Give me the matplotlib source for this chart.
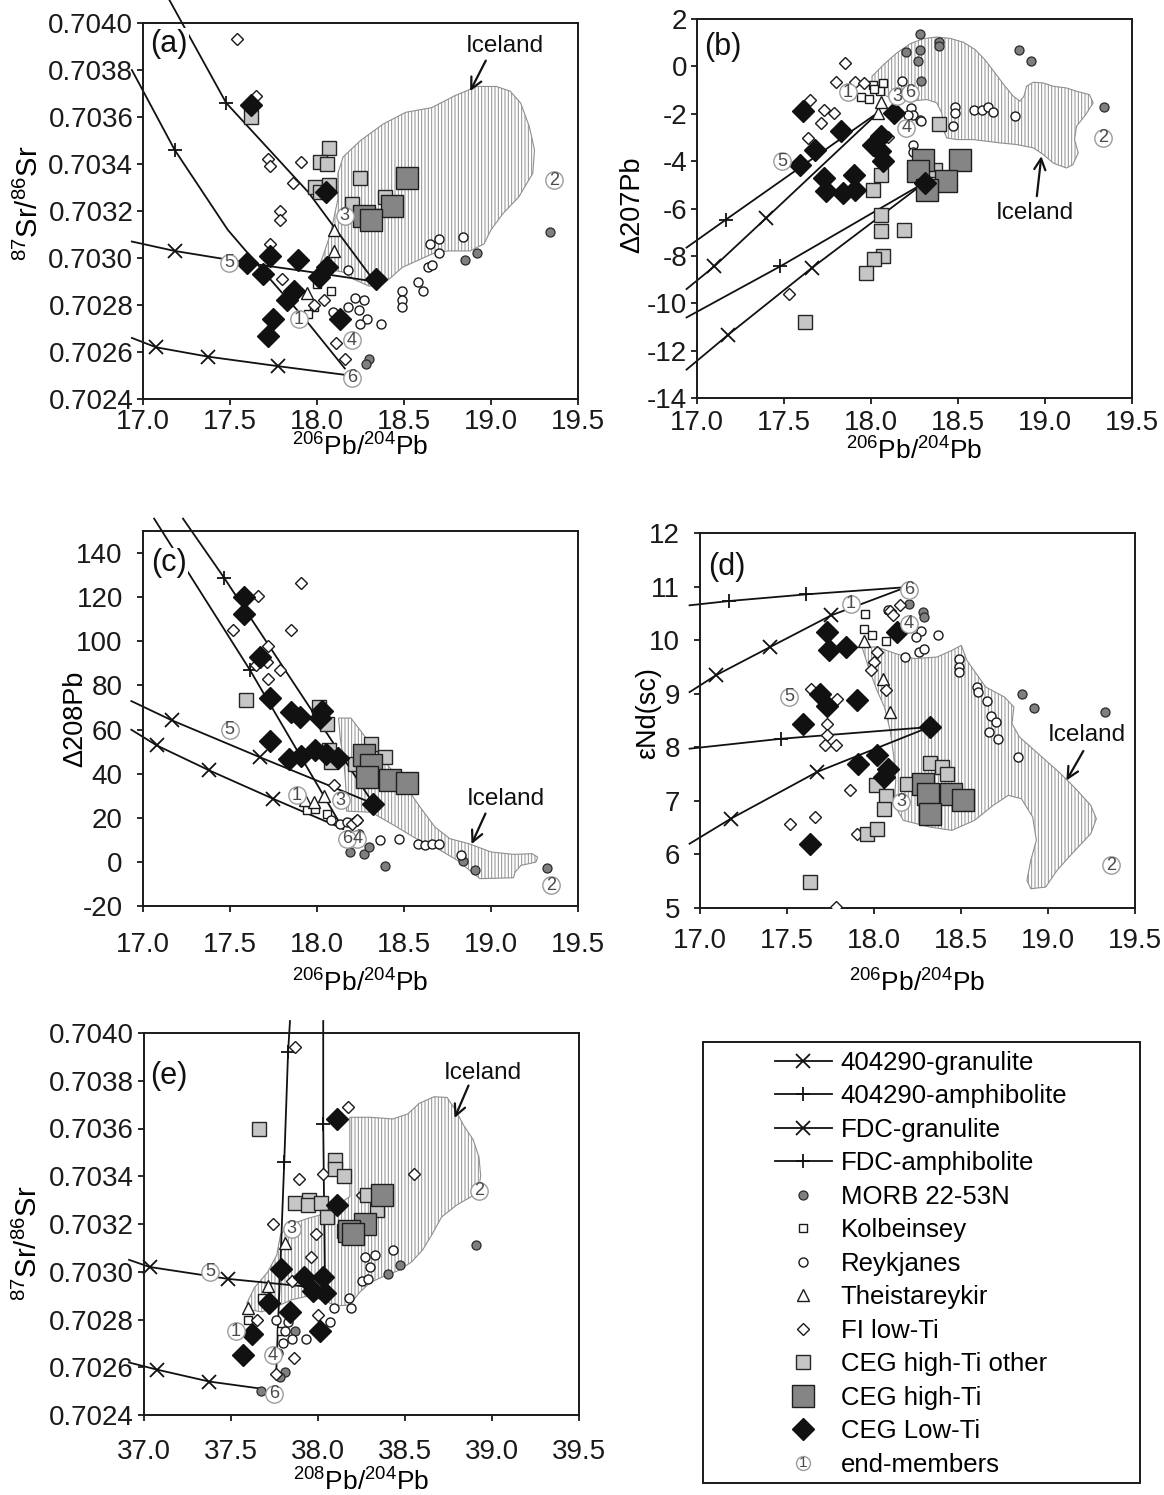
import matplotlib
matplotlib.use('Agg')
import matplotlib.pyplot as plt
from matplotlib.patches import Polygon, Rectangle
from matplotlib.lines import Line2D
from matplotlib.text import Text
from matplotlib.legend_handler import HandlerBase
from matplotlib.ticker import FormatStrFormatter, MultipleLocator

plt.rcParams['font.family'] = ['Liberation Sans', 'DejaVu Sans']
plt.rcParams['mathtext.fontset'] = 'custom'
plt.rcParams['mathtext.rm'] = 'Liberation Sans'
plt.rcParams['mathtext.it'] = 'Liberation Sans:italic'
plt.rcParams['mathtext.bf'] = 'Liberation Sans:bold'
plt.rcParams['hatch.linewidth'] = 0.7

W, H = 1164, 1495

################################################
############ PANEL (a): 87Sr/86Sr vs 206Pb ######
################################################
A_ICELAND = [(18.04, 0.70302), (18.08, 0.70311), (18.12, 0.70325), (18.12, 0.70336), (18.15, 0.70343),
             (18.25, 0.70350), (18.38, 0.70357), (18.51, 0.70362), (18.66, 0.70364), (18.79, 0.70369),
             (18.92, 0.70373), (19.03, 0.70373), (19.11, 0.70371), (19.17, 0.70366), (19.22, 0.70356),
             (19.25, 0.70346), (19.24, 0.70336), (19.16, 0.70326), (19.07, 0.70319), (19.00, 0.70312),
             (18.96, 0.70306), (18.88, 0.70303), (18.75, 0.70303), (18.67, 0.70302), (18.58, 0.70299),
             (18.49, 0.70296), (18.43, 0.70292), (18.38, 0.70289), (18.30, 0.70288), (18.21, 0.70291),
             (18.15, 0.70294), (18.08, 0.70295), (18.02, 0.70298)]
A_MORB = [(19.34, 0.70311), (18.92, 0.70302), (18.85, 0.70299), (18.30, 0.70257), (18.28, 0.70255)]
A_KOLB = [(18.00, 0.70289), (18.08, 0.70286), (17.98, 0.70279), (17.95, 0.70276)]
A_REYK = [(18.18, 0.70295), (18.09, 0.70277), (18.22, 0.70283), (18.27, 0.70282), (18.18, 0.70279),
          (18.24, 0.70278), (18.29, 0.70274), (18.25, 0.70272), (18.37, 0.70272), (18.49, 0.70286),
          (18.49, 0.70282), (18.49, 0.70279), (18.58, 0.70290), (18.61, 0.70286), (18.64, 0.70296),
          (18.66, 0.70297), (18.65, 0.70306), (18.70, 0.70308), (18.70, 0.70302), (18.84, 0.70309)]
A_THEIS = [(18.10, 0.70312), (18.10, 0.70303), (17.94, 0.70285)]
A_FI = [(17.54, 0.70393), (17.65, 0.70369), (17.72, 0.70342), (17.73, 0.70339), (17.91, 0.70341),
        (17.86, 0.70332), (17.79, 0.70320), (17.79, 0.70316), (17.73, 0.70306), (17.80, 0.70291),
        (18.04, 0.70282), (17.98, 0.70280), (18.11, 0.70264), (18.16, 0.70257)]
A_CEG_OTHER = [(17.62, 0.70360), (18.07, 0.70347), (18.02, 0.70341), (18.06, 0.70340), (17.99, 0.70330),
               (18.02, 0.70328), (18.07, 0.70331), (18.20, 0.70323), (18.25, 0.70334), (18.39, 0.70326),
               (18.33, 0.70318)]
A_CEG_HIGH = [(18.52, 0.70334), (18.43, 0.70322), (18.27, 0.70318), (18.31, 0.70316)]
A_CEG_LOW = [(17.62, 0.70365), (18.05, 0.70328), (17.60, 0.70298), (17.69, 0.70293), (17.73, 0.70301),
             (17.89, 0.70299), (17.87, 0.70286), (17.83, 0.70282), (18.01, 0.70292), (18.06, 0.70296),
             (18.34, 0.70291), (17.75, 0.70274), (17.72, 0.70267), (18.13, 0.70274)]
A_END = [(17.895, 0.70274), (19.36, 0.70333), (18.16, 0.70318), (18.20, 0.70265), (17.494, 0.70298),
         (18.20, 0.70249)]
A_404_AMPH = [(17.15, 0.70410), (17.478, 0.70366), (17.95, 0.70328), (18.33, 0.70290)]
A_404_GRAN = [(16.936, 0.70307), (17.182, 0.70303), (17.68, 0.70297), (17.968, 0.70294), (18.33, 0.70290)]
A_FDC_AMPH = [(16.936, 0.70380), (17.182, 0.70346), (17.487, 0.70312), (17.719, 0.70292),
              (17.931, 0.70274), (18.16, 0.70253)]
A_FDC_GRAN = [(16.936, 0.70266), (17.075, 0.70262), (17.376, 0.70258), (17.773, 0.70254), (18.19, 0.70250)]
A_MARKS = {'404_amph': [1], '404_gran': [1], 'fdc_amph': [1], 'fdc_gran': [1, 2, 3]}

################################################
############ PANEL (b): D207Pb vs 206Pb ########
################################################
B_ICELAND = [(18.006, -0.42), (18.072, 0.07), (18.149, 0.57), (18.226, 0.96), (18.302, 1.17), (18.378, 1.24),
             (18.455, 1.18), (18.531, 1.02), (18.598, 0.71), (18.655, 0.28), (18.713, -0.28), (18.770, -0.84),
             (18.818, -1.26), (18.856, -1.47), (18.879, -1.26), (18.894, -0.84), (18.933, -0.67),
             (18.990, -0.70), (19.047, -0.84), (19.123, -0.91), (19.181, -1.05), (19.255, -1.19),
             (19.277, -1.54), (19.234, -2.04), (19.181, -2.53), (19.170, -3.09), (19.191, -3.65),
             (19.160, -4.15), (19.123, -4.29), (19.047, -4.08), (18.990, -3.72), (18.933, -3.44),
             (18.837, -3.30), (18.741, -3.23), (18.665, -3.16), (18.588, -3.09), (18.493, -3.09),
             (18.435, -3.02), (18.416, -2.67), (18.407, -1.97), (18.378, -1.54), (18.321, -1.40),
             (18.225, -1.47), (18.130, -1.40), (18.053, -1.12), (18.006, -0.77)]
B_MORB = [(18.28, 1.38), (18.20, 0.59), (18.28, 0.68), (18.27, 0.24), (18.39, 1.02), (18.39, 0.85),
          (18.29, -0.60), (18.85, 0.68), (18.92, 0.24), (19.34, -1.71)]
B_KOLB = [(17.94, -1.29), (17.99, -1.38), (18.01, -0.77), (18.07, -0.70), (18.05, -1.05), (18.02, -0.95)]
B_REYK = [(18.48, -1.71), (18.48, -1.97), (18.47, -2.50), (18.59, -1.85), (18.64, -1.83), (18.67, -1.71),
          (18.70, -1.94), (18.83, -2.08), (18.18, -0.63), (18.23, -1.76), (18.24, -2.04), (18.28, -2.25),
          (18.24, -3.34), (18.24, -3.63), (18.21, -2.04), (18.29, -2.32)]
B_THEIS = [(18.04, -1.97), (18.06, -1.50)]
B_FI = [(17.85, 0.14), (17.80, -0.67), (17.91, -0.67), (17.96, -0.70), (17.65, -1.40), (17.73, -1.83),
        (17.71, -2.39), (17.79, -1.97), (17.64, -3.02), (18.10, -2.98), (17.53, -9.63)]
B_CEG_OTHER = [(18.39, -2.42), (18.06, -4.57), (18.01, -5.23), (18.06, -6.26), (18.06, -6.96),
               (18.19, -6.92), (18.07, -7.99), (18.02, -8.15), (17.97, -8.72), (17.62, -10.80), (18.37, -4.36)]
B_CEG_HIGH = [(18.30, -3.94), (18.51, -3.94), (18.27, -4.43), (18.43, -4.85), (18.32, -5.20)]
B_CEG_LOW = [(17.61, -1.90), (17.59, -4.15), (17.68, -3.51), (17.83, -2.74), (17.73, -4.71), (17.74, -5.27),
             (17.84, -5.34), (17.90, -4.57), (17.91, -5.20), (18.13, -1.97), (18.01, -3.30), (18.06, -2.95),
             (18.05, -3.58), (18.07, -4.01), (18.31, -4.92)]
B_END = [(17.868, -1.09), (19.336, -3.02), (18.149, -1.26), (18.202, -2.60), (17.489, -4.01), (18.223, -1.12)]
B_404_AMPH = [(16.94, -10.6), (17.479, -8.44), (18.31, -4.9)]
B_404_GRAN = [(16.94, -12.8), (17.181, -11.32), (17.66, -8.51), (18.31, -4.9)]
B_FDC_AMPH = [(16.94, -7.65), (17.166, -6.47), (18.05, -1.9)]
B_FDC_GRAN = [(16.94, -9.4), (17.10, -8.44), (17.398, -6.40), (18.05, -1.9)]
B_MARKS = {'404_amph': [1], '404_gran': [1, 2], 'fdc_amph': [1], 'fdc_gran': [1, 2]}

################################################
############ PANEL (c): D208Pb vs 206Pb ########
################################################
C_ICELAND = [(18.124, 65.2), (18.195, 65.2), (18.292, 55.1), (18.399, 44.5), (18.506, 34.7), (18.592, 24.9),
             (18.678, 15.8), (18.764, 10.5), (18.871, 8.3), (19.0, 4.5), (19.129, 3.4), (19.236, 3.7),
             (19.268, 2.2), (19.258, -0.1), (19.172, -1.6), (19.139, -4.6), (19.129, -7.2), (18.936, -7.6),
             (18.807, 0.7), (18.678, 6.7), (18.571, 10.5), (18.442, 16.6), (18.313, 22.5), (18.17, 23.0),
             (18.165, 35.0), (18.155, 45.0), (18.135, 55.0)]
C_MORB = [(18.19, 4.5), (18.27, 3.7), (18.30, 6.8), (18.39, -2.0), (18.84, 0.4), (18.91, -3.5), (19.32, -2.6)]
C_KOLB = [(17.94, 23.4), (17.99, 24.1), (18.06, 21.9)]
C_REYK = [(18.08, 18.8), (18.13, 17.3), (18.17, 18.0), (18.23, 18.8), (18.24, 12.8), (18.36, 9.8),
          (18.47, 10.5), (18.58, 8.3), (18.62, 7.5), (18.66, 8.3), (18.70, 8.3), (18.83, 3.0)]
C_THEIS = [(17.93, 28.0), (17.98, 27.0), (18.04, 30.0)]
C_FI = [(17.91, 126.4), (17.52, 105.0), (17.85, 105.0), (17.72, 97.7), (17.65, 89.1), (17.71, 90.6),
        (17.79, 86.8), (17.72, 83.0), (17.66, 120.4), (18.10, 34.7), (18.20, 17.0), (18.23, 19.0)]
C_CEG_OTHER = [(17.59, 73.2), (18.01, 70.2), (18.06, 62.6), (18.07, 50.6), (18.08, 45.3), (18.22, 44.5),
               (18.31, 53.6), (18.39, 47.5), (18.31, 37.0)]
C_CEG_HIGH = [(18.27, 48.3), (18.31, 43.8), (18.42, 37.0), (18.52, 35.8), (18.29, 38.5)]
C_CEG_LOW = [(17.58, 120.1), (17.58, 112.5), (17.67, 92.9), (17.73, 74.1), (17.85, 68.0), (17.90, 65.9),
             (17.73, 54.7), (17.84, 46.5), (17.91, 47.8), (18.02, 65.1), (18.03, 68.5), (17.99, 50.8),
             (18.05, 48.7), (18.12, 47.2), (18.32, 26.4)]
C_END = [(17.884, 30.2), (19.343, -10.6), (18.137, 27.9), (18.232, 10.5), (17.498, 59.9), (18.174, 10.5)]
C_404_AMPH = [(17.230, 155.6), (17.466, 128.8), (18.324, 26.4)]
C_404_GRAN = [(16.933, 72.9), (17.165, 64.2), (17.670, 47.5), (18.324, 26.4)]
C_FDC_AMPH = [(17.064, 155.6), (17.616, 86.8), (18.15, 15.0)]
C_FDC_GRAN = [(16.933, 59.9), (17.079, 52.8), (17.380, 41.5), (17.745, 28.7), (18.15, 15.0)]
C_MARKS = {'404_amph': [1], '404_gran': [1, 2], 'fdc_amph': [1], 'fdc_gran': [1, 2, 3]}

################################################
############ PANEL (d): eNd vs 206Pb ###########
################################################
D_ICELAND = [(17.931, 9.872), (17.974, 9.436), (18.017, 9.063), (18.060, 8.752), (18.093, 8.316),
             (18.114, 7.818), (18.125, 7.383), (18.114, 6.947), (18.168, 6.636), (18.319, 6.512),
             (18.448, 6.450), (18.578, 6.636), (18.685, 6.916), (18.772, 7.103), (18.847, 7.040),
             (18.912, 6.698), (18.933, 6.263), (18.901, 5.889), (18.879, 5.516), (18.901, 5.360),
             (18.987, 5.391), (19.052, 5.703), (19.138, 6.014), (19.246, 6.387), (19.278, 6.667),
             (19.246, 6.916), (19.159, 7.227), (19.073, 7.507), (18.944, 7.881), (18.836, 8.192),
             (18.793, 8.441), (18.804, 8.752), (18.750, 8.938), (18.642, 9.125), (18.534, 9.623),
             (18.502, 9.903), (18.448, 9.810), (18.362, 9.685), (18.233, 9.654), (18.125, 9.747),
             (18.017, 9.872)]
D_MORB = [(18.20, 10.68), (18.28, 10.53), (18.29, 10.43), (18.85, 8.99), (18.92, 8.74), (19.33, 8.66)]
D_KOLB = [(17.95, 10.48), (17.94, 10.20), (17.99, 10.09), (18.07, 9.98)]
D_REYK = [(18.08, 10.57), (18.27, 10.17), (18.24, 10.06), (18.26, 9.78), (18.29, 9.84), (18.18, 9.69),
          (18.37, 10.09), (18.49, 9.64), (18.49, 9.50), (18.49, 9.41), (18.59, 9.13), (18.60, 9.03),
          (18.65, 8.86), (18.67, 8.58), (18.70, 8.47), (18.66, 8.29), (18.71, 8.16), (18.83, 7.82)]
D_THEIS = [(17.94, 9.98), (18.05, 9.28), (18.09, 8.66)]
D_FI = [(18.09, 10.55), (18.11, 10.46), (18.15, 10.65), (18.02, 9.78), (18.00, 9.59), (17.98, 9.44),
        (18.07, 9.06), (17.64, 9.09), (17.79, 8.91), (17.73, 8.44), (17.73, 8.22), (17.72, 8.04),
        (17.78, 8.04), (17.86, 7.20), (17.52, 6.57), (17.66, 6.69), (17.90, 6.39), (17.78, 5.02)]
D_CEG_OTHER = [(18.01, 7.29), (18.07, 7.10), (18.06, 6.85), (17.96, 6.39), (18.02, 6.48), (18.19, 7.31),
               (18.32, 7.71), (18.39, 7.63), (18.42, 7.50), (17.63, 5.49)]
D_CEG_HIGH = [(18.28, 7.32), (18.31, 7.12), (18.44, 7.12), (18.51, 7.01), (18.32, 6.76)]
D_CEG_LOW = [(17.73, 10.15), (17.74, 9.81), (17.84, 9.87), (18.13, 10.15), (17.69, 9.00), (17.73, 8.78),
             (17.90, 8.88), (17.59, 8.44), (18.32, 8.38), (17.91, 7.69), (18.02, 7.85), (18.08, 7.60),
             (18.06, 7.45), (17.63, 6.20)]
D_END = [(17.866, 10.68), (19.364, 5.80), (18.157, 6.98), (18.20, 10.31), (17.511, 8.94), (18.20, 10.94)]
D_404_AMPH = [(16.94, 7.974), (17.468, 8.16), (18.319, 8.378)]
D_404_GRAN = [(16.94, 6.2), (17.177, 6.667), (17.672, 7.538), (18.319, 8.378)]
D_FDC_AMPH = [(16.94, 10.65), (17.166, 10.73), (17.612, 10.855), (18.19, 10.99)]
D_FDC_GRAN = [(16.94, 9.03), (17.091, 9.343), (17.403, 9.872), (17.752, 10.46), (18.17, 10.97)]
D_MARKS = {'404_amph': [1], '404_gran': [1, 2], 'fdc_amph': [1, 2], 'fdc_gran': [1, 2, 3]}

################################################
############ PANEL (e): 87Sr/86Sr vs 208Pb ######
################################################
E_ICELAND = [(37.591, 0.702868), (37.634, 0.702933), (37.710, 0.702998), (37.763, 0.703070),
             (37.785, 0.703157), (37.849, 0.703200), (37.935, 0.703222), (38.022, 0.703240),
             (38.097, 0.703272), (38.183, 0.703315), (38.183, 0.703647), (38.301, 0.703647),
             (38.430, 0.703640), (38.516, 0.703661), (38.581, 0.703705), (38.667, 0.703733),
             (38.742, 0.703730), (38.785, 0.703683), (38.839, 0.703611), (38.892, 0.703553),
             (38.925, 0.703481), (38.935, 0.703402), (38.925, 0.703351), (38.882, 0.703315),
             (38.796, 0.703279), (38.710, 0.703229), (38.656, 0.703157), (38.602, 0.703092),
             (38.538, 0.703041), (38.462, 0.703005), (38.387, 0.702984), (38.301, 0.702955),
             (38.237, 0.702912), (38.183, 0.702861), (38.108, 0.702857), (38.022, 0.702883),
             (37.935, 0.702897), (37.849, 0.702883), (37.763, 0.702854), (37.677, 0.702832),
             (37.613, 0.702840)]
E_MORB = [(38.91, 0.70311), (38.47, 0.70303), (38.40, 0.70299), (37.81, 0.70258), (37.78, 0.70256),
          (37.67, 0.70250), (37.87, 0.70275)]
E_KOLB = [(37.68, 0.70289), (37.60, 0.70280), (37.79, 0.70275)]
E_REYK = [(38.27, 0.70306), (38.33, 0.70307), (38.43, 0.70309), (38.25, 0.70296), (38.29, 0.70297),
          (38.30, 0.70302), (38.18, 0.70289), (38.19, 0.70285), (38.09, 0.70285), (38.07, 0.70279),
          (37.83, 0.70279), (37.81, 0.70275), (37.85, 0.70272), (37.93, 0.70272), (37.80, 0.70270),
          (37.77, 0.70266), (37.76, 0.70280)]
E_THEIS = [(37.81, 0.70312), (37.71, 0.70294), (37.60, 0.70285)]
E_FI = [(37.87, 0.70394), (38.17, 0.70369), (37.89, 0.70339), (38.03, 0.70341), (38.25, 0.70332),
        (38.55, 0.70341), (37.74, 0.70320), (37.99, 0.70316), (37.96, 0.70306), (37.85, 0.70296),
        (37.65, 0.70280), (38.00, 0.70282), (37.86, 0.70264), (37.76, 0.70257)]
E_CEG_OTHER = [(37.66, 0.70360), (37.87, 0.70329), (37.95, 0.70330), (37.94, 0.70328), (38.02, 0.70329),
               (38.05, 0.70323), (38.10, 0.70347), (38.10, 0.70343), (38.15, 0.70340), (38.28, 0.70332),
               (38.34, 0.70326), (38.15, 0.70317)]
E_CEG_HIGH = [(38.37, 0.70332), (38.27, 0.70320), (38.18, 0.70317), (38.20, 0.70316)]
E_CEG_LOW = [(38.11, 0.70364), (38.11, 0.70328), (37.79, 0.70301), (37.72, 0.70287), (37.84, 0.70283),
             (37.62, 0.70274), (37.57, 0.70265), (37.92, 0.70298), (37.97, 0.70292), (38.03, 0.70298),
             (38.04, 0.70291), (38.01, 0.70275)]
E_END = [(37.527, 0.70275), (38.925, 0.70334), (37.849, 0.70318), (37.742, 0.70265), (37.381, 0.70300),
         (37.746, 0.70249)]
E_404_AMPH = [(38.03, 0.70405), (38.03, 0.70362), (38.04, 0.70293)]
E_404_GRAN = [(36.914, 0.70305), (37.032, 0.70302), (37.484, 0.70297), (38.04, 0.70293)]
E_FDC_AMPH = [(37.839, 0.70405), (37.828, 0.70392), (37.806, 0.70346), (37.76, 0.70258)]
E_FDC_GRAN = [(36.914, 0.70262), (37.075, 0.70259), (37.376, 0.70254), (37.677, 0.70251)]
E_MARKS = {'404_amph': [1], '404_gran': [1, 2], 'fdc_amph': [1, 2], 'fdc_gran': [1, 2]}

SERIES = ['morb', 'kolb', 'reyk', 'theis', 'fi', 'ceg_other', 'ceg_high', 'ceg_low']
LABELS = {'404_gran': '404290-granulite', '404_amph': '404290-amphibolite',
          'fdc_gran': 'FDC-granulite', 'fdc_amph': 'FDC-amphibolite',
          'morb': 'MORB 22-53N', 'kolb': 'Kolbeinsey', 'reyk': 'Reykjanes', 'theis': 'Theistareykir',
          'fi': 'FI low-Ti', 'ceg_other': 'CEG high-Ti other', 'ceg_high': 'CEG high-Ti',
          'ceg_low': 'CEG Low-Ti'}

STYLE = {
    'morb': dict(marker='o', ms=6.5, mfc='#7f7f7f', mec='#2a2a2a', mew=0.9),
    'kolb': dict(marker='s', ms=6.0, mfc='white', mec='#1a1a1a', mew=1.0),
    'reyk': dict(marker='o', ms=6.5, mfc='white', mec='#1a1a1a', mew=1.0),
    'theis': dict(marker='^', ms=8.0, mfc='white', mec='#1a1a1a', mew=1.0),
    'fi': dict(marker='D', ms=6.0, mfc='white', mec='#1a1a1a', mew=1.0),
    'ceg_other': dict(marker='s', ms=10.0, mfc='#c6c6c6', mec='#262626', mew=1.0),
    'ceg_high': dict(marker='s', ms=16.0, mfc='#858585', mec='#1e1e1e', mew=1.0),
    'ceg_low': dict(marker='D', ms=11.5, mfc='#111111', mec='#111111', mew=1.0),
}
LINE_MARKER = {'404_gran': 'x', 'fdc_gran': 'x', '404_amph': '+', 'fdc_amph': '+'}


def rect(x0, x1, y0, y1):
    return [x0 / W, 1 - y1 / H, (x1 - x0) / W, (y1 - y0) / H]


PANELS = [
    dict(tag='(a)', rect=rect(143, 578, 23, 399), xlim=(17, 19.5), ylim=(0.7024, 0.7040),
         ystep=0.0002, yfmt='%.4f', xstep=0.5,
         ylabel='$^{87}$Sr/$^{86}$Sr', xlabel='$^{206}$Pb/$^{204}$Pb', ylab_fs=21,
         ylab_xy=(-0.262, 0.52), xlab_y=-0.128, xpad=2.5, ypad=2.5, tag_xy=(0.017, 0.985),
         iceland=A_ICELAND, morb=A_MORB, kolb=A_KOLB, reyk=A_REYK, theis=A_THEIS, fi=A_FI,
         ceg_other=A_CEG_OTHER, ceg_high=A_CEG_HIGH, ceg_low=A_CEG_LOW, end=A_END,
         lines={'404_amph': A_404_AMPH, '404_gran': A_404_GRAN, 'fdc_amph': A_FDC_AMPH, 'fdc_gran': A_FDC_GRAN},
         marks=A_MARKS, ice_label=(19.08, 0.70390), ice_arrow=((18.97, 0.70384), (18.88, 0.70371))),
    dict(tag='(b)', rect=rect(697, 1132, 19, 398), xlim=(17, 19.5), ylim=(-14, 2),
         ystep=2, yfmt='%d', xstep=0.5,
         ylabel='\u0394207Pb', xlabel='$^{206}$Pb/$^{204}$Pb', ylab_fs=19.5,
         ylab_xy=(-0.148, 0.51), xlab_y=-0.14, xpad=4.5, ypad=2.5, tag_xy=(0.017, 0.967),
         iceland=B_ICELAND, morb=B_MORB, kolb=B_KOLB, reyk=B_REYK, theis=B_THEIS, fi=B_FI,
         ceg_other=B_CEG_OTHER, ceg_high=B_CEG_HIGH, ceg_low=B_CEG_LOW, end=B_END,
         lines={'404_amph': B_404_AMPH, '404_gran': B_404_GRAN, 'fdc_amph': B_FDC_AMPH, 'fdc_gran': B_FDC_GRAN},
         marks=B_MARKS, ice_label=(18.94, -6.19), ice_arrow=((18.953, -5.48), (18.979, -3.79))),
    dict(tag='(c)', rect=rect(143, 578, 531, 906), xlim=(17, 19.5), ylim=(-20, 150),
         ystep=20, yfmt='%d', xstep=0.5, ymax_tick=140,
         ylabel='\u0394208Pb', xlabel='$^{206}$Pb/$^{204}$Pb', ylab_fs=19.5,
         ylab_xy=(-0.155, 0.50), xlab_y=-0.205, xpad=14, ypad=10, tag_xy=(0.019, 0.954),
         iceland=C_ICELAND, morb=C_MORB, kolb=C_KOLB, reyk=C_REYK, theis=C_THEIS, fi=C_FI,
         ceg_other=C_CEG_OTHER, ceg_high=C_CEG_HIGH, ceg_low=C_CEG_LOW, end=C_END,
         lines={'404_amph': C_404_AMPH, '404_gran': C_404_GRAN, 'fdc_amph': C_FDC_AMPH, 'fdc_gran': C_FDC_GRAN},
         marks=C_MARKS, ice_label=(19.086, 28.7), ice_arrow=((18.968, 21.9), (18.888, 8.0))),
    dict(tag='(d)', rect=rect(700, 1135, 533, 908), xlim=(17, 19.5), ylim=(5, 12),
         ystep=1, yfmt='%d', xstep=0.5,
         ylabel='\u03b5Nd(sc)', xlabel='$^{206}$Pb/$^{204}$Pb', ylab_fs=19.5,
         ylab_xy=(-0.12, 0.52), xlab_y=-0.2, xpad=10, ypad=10, tag_xy=(0.019, 0.95),
         iceland=D_ICELAND, morb=D_MORB, kolb=D_KOLB, reyk=D_REYK, theis=D_THEIS, fi=D_FI,
         ceg_other=D_CEG_OTHER, ceg_high=D_CEG_HIGH, ceg_low=D_CEG_LOW, end=D_END,
         lines={'404_amph': D_404_AMPH, '404_gran': D_404_GRAN, 'fdc_amph': D_FDC_AMPH, 'fdc_gran': D_FDC_GRAN},
         marks=D_MARKS, ice_label=(19.224, 8.22), ice_arrow=((19.203, 7.93), (19.106, 7.38))),
    dict(tag='(e)', rect=rect(144, 579, 1033, 1415), xlim=(37, 39.5), ylim=(0.7024, 0.7040),
         ystep=0.0002, yfmt='%.4f', xstep=0.5,
         ylabel='$^{87}$Sr/$^{86}$Sr', xlabel='$^{208}$Pb/$^{204}$Pb', ylab_fs=21,
         ylab_xy=(-0.265, 0.45), xlab_y=-0.175, xpad=13, ypad=3, tag_xy=(0.013, 0.926),
         iceland=E_ICELAND, morb=E_MORB, kolb=E_KOLB, reyk=E_REYK, theis=E_THEIS, fi=E_FI,
         ceg_other=E_CEG_OTHER, ceg_high=E_CEG_HIGH, ceg_low=E_CEG_LOW, end=E_END,
         lines={'404_amph': E_404_AMPH, '404_gran': E_404_GRAN, 'fdc_amph': E_FDC_AMPH, 'fdc_gran': E_FDC_GRAN},
         marks=E_MARKS, ice_label=(38.946, 0.703834), ice_arrow=((38.865, 0.70378), (38.785, 0.703644))),
]

TICK_FS = 20
XLABEL_FS = 19


def draw_panel(fig, p):
    ax = fig.add_axes(p['rect'])
    ax.set_xlim(*p['xlim'])
    ax.set_ylim(*p['ylim'])
    ax.xaxis.set_major_locator(MultipleLocator(p['xstep']))
    ax.yaxis.set_major_locator(MultipleLocator(p['ystep']))
    ax.xaxis.set_major_formatter(FormatStrFormatter('%.1f'))
    ax.yaxis.set_major_formatter(FormatStrFormatter(p['yfmt']))
    for sp in ax.spines.values():
        sp.set_linewidth(1.4)
        sp.set_color('#1a1a1a')
    ax.tick_params(direction='out', length=4.5, width=1.3, labelsize=TICK_FS, colors='#1a1a1a')
    ax.tick_params(axis='x', pad=p['xpad'])
    ax.tick_params(axis='y', pad=p['ypad'])
    if 'ymax_tick' in p:
        ax.set_yticks([t for t in ax.get_yticks() if p['ylim'][0] <= t <= p['ymax_tick']])

    # Iceland field
    ax.add_patch(Polygon(p['iceland'], closed=True, facecolor='white', edgecolor='#8e8e8e',
                         hatch='|||||', lw=0.8, zorder=1))

    # mixing lines
    for key, pts in p['lines'].items():
        xs = [q[0] for q in pts]
        ys = [q[1] for q in pts]
        ax.plot(xs, ys, color='#111111', lw=1.3, marker=LINE_MARKER[key], ms=10, mew=1.3,
                markevery=p['marks'][key], clip_on=False, zorder=2)

    # sample groups
    for i, key in enumerate(SERIES):
        xs = [q[0] for q in p[key]]
        ys = [q[1] for q in p[key]]
        ax.plot(xs, ys, ls='none', zorder=3 + i * 0.1, **STYLE[key])

    # end-members
    for n, (x, y) in enumerate(p['end'], start=1):
        ax.plot(x, y, 'o', ms=12.5, mfc='white', mec='#9c9c9c', mew=1.0, zorder=6, clip_on=False)
        ax.text(x, y, str(n), ha='center', va='center', fontsize=13, color='#4a4a4a', zorder=7)

    ax.text(*p['ice_label'], 'Iceland', fontsize=17.5, ha='center', va='center', color='#111111', zorder=8)
    ax.annotate('', xy=p['ice_arrow'][1], xytext=p['ice_arrow'][0],
                arrowprops=dict(arrowstyle='->', color='#111111', lw=1.6, mutation_scale=20,
                                shrinkA=0, shrinkB=0), zorder=8)

    ax.text(p['tag_xy'][0], p['tag_xy'][1], p['tag'], transform=ax.transAxes, fontsize=22,
            ha='left', va='top', color='#111111', zorder=9,
            bbox=dict(facecolor='white', edgecolor='none', pad=0.5))

    ax.set_ylabel(p['ylabel'], fontsize=p['ylab_fs'], rotation=90, va='center', ha='center')
    ax.yaxis.set_label_coords(*p['ylab_xy'])
    ax.set_xlabel(p['xlabel'], fontsize=XLABEL_FS, va='center', ha='center')
    ax.xaxis.set_label_coords(0.5, p['xlab_y'])
    return ax


class EndMemberHandler(HandlerBase):
    def create_artists(self, legend, orig_handle, xdescent, ydescent, width, height, fontsize, trans):
        cx = 0.5 * width - xdescent
        cy = 0.5 * height - ydescent
        circ = Line2D([cx], [cy], marker='o', ms=10, mfc='white', mec='#9c9c9c', mew=1.0,
                      ls='none', transform=trans)
        txt = Text(cx, cy, '1', ha='center', va='center', fontsize=11, color='#4a4a4a',
                   transform=trans)
        return [circ, txt]


fig = plt.figure(figsize=(W / 100, H / 100), dpi=100)
for p in PANELS:
    draw_panel(fig, p)

# legend box
lax = fig.add_axes(rect(703, 1140, 1042, 1483))
lax.set_axis_off()
lax.add_patch(Rectangle((0, 0), 1, 1, transform=lax.transAxes, facecolor='white',
                        edgecolor='#1a1a1a', lw=1.4, clip_on=False))
handles = []
labels = []
for key in ['404_gran', '404_amph', 'fdc_gran', 'fdc_amph']:
    handles.append(Line2D([], [], color='#111111', lw=1.3, marker=LINE_MARKER[key], ms=10, mew=1.3))
    labels.append(LABELS[key])
for key in SERIES:
    handles.append(Line2D([], [], ls='none', **STYLE[key]))
    labels.append(LABELS[key])
end_handle = Line2D([], [], ls='none')
handles.append(end_handle)
labels.append('end-members')
lax.legend(handles, labels, loc='upper left', bbox_to_anchor=(0.165, 0.98), frameon=False,
           fontsize=18.5, handlelength=2.2, handletextpad=0.35, labelspacing=0.37, borderpad=0,
           borderaxespad=0, numpoints=1, handler_map={end_handle: EndMemberHandler()})

fig.savefig('out.png', dpi=100)
